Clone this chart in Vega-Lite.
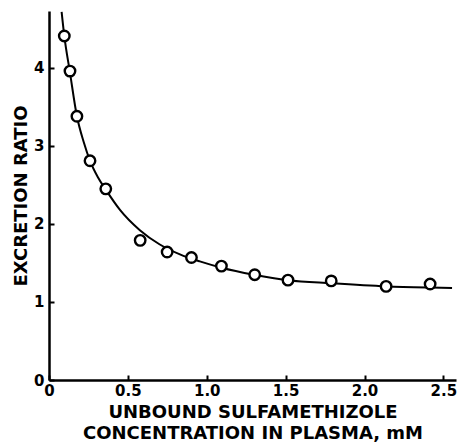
{
  "$schema": "https://vega.github.io/schema/vega-lite/v6.json",
  "width": 407,
  "height": 369,
  "autosize": {"type": "none"},
  "padding": {"left": 49, "top": 11, "right": 1, "bottom": 67},
  "background": "white",
  "config": {
    "view": {"stroke": null},
    "font": "DejaVu Sans"
  },
  "datasets": {
    "points": [
      {"x": 0.097, "y": 4.41},
      {"x": 0.133, "y": 3.96},
      {"x": 0.177, "y": 3.38},
      {"x": 0.26, "y": 2.81},
      {"x": 0.36, "y": 2.45},
      {"x": 0.578, "y": 1.79},
      {"x": 0.749, "y": 1.64},
      {"x": 0.903, "y": 1.57},
      {"x": 1.093, "y": 1.46},
      {"x": 1.304, "y": 1.35},
      {"x": 1.515, "y": 1.28},
      {"x": 1.789, "y": 1.27},
      {"x": 2.137, "y": 1.2},
      {"x": 2.416, "y": 1.23}
    ],
    "curve": [
      {"x": 0.08, "y": 4.72},
      {"x": 0.097, "y": 4.41},
      {"x": 0.133, "y": 3.94},
      {"x": 0.177, "y": 3.38},
      {"x": 0.22, "y": 3.05},
      {"x": 0.26, "y": 2.81},
      {"x": 0.31, "y": 2.6},
      {"x": 0.36, "y": 2.44},
      {"x": 0.45, "y": 2.18},
      {"x": 0.576, "y": 1.92},
      {"x": 0.7, "y": 1.74},
      {"x": 0.83, "y": 1.61},
      {"x": 0.956, "y": 1.52},
      {"x": 1.093, "y": 1.44},
      {"x": 1.3, "y": 1.35},
      {"x": 1.515, "y": 1.28},
      {"x": 1.79, "y": 1.24},
      {"x": 2.137, "y": 1.2},
      {"x": 2.416, "y": 1.185},
      {"x": 2.555, "y": 1.18}
    ]
  },
  "encoding": {
    "x": {
      "field": "x", "type": "quantitative",
      "scale": {"domain": [0, 2.58], "nice": false, "zero": false},
      "axis": {
        "values": [0, 0.5, 1, 1.5, 2, 2.5],
        "labelExpr": "datum.value == 0 ? '0' : format(datum.value, '.1f')",
        "title": ["UNBOUND SULFAMETHIZOLE", "CONCENTRATION IN PLASMA, mM"],
        "titleFontSize": 18, "titleFontWeight": "bold", "titleColor": "black",
        "titlePadding": 5, "titleLineHeight": 21,
        "labelFontSize": 15, "labelFontWeight": "bold", "labelColor": "black",
        "labelPadding": 8, "labelFlush": false,
        "domainColor": "black", "domainWidth": 2.5,
        "tickColor": "black", "tickWidth": 2, "tickSize": -5,
        "grid": false
      }
    },
    "y": {
      "field": "y", "type": "quantitative",
      "scale": {"domain": [0, 4.73], "nice": false},
      "axis": {
        "values": [0, 1, 2, 3, 4],
        "title": "EXCRETION RATIO",
        "titleFontSize": 18, "titleFontWeight": "bold", "titleColor": "black",
        "titlePadding": 3,
        "labelFontSize": 15, "labelFontWeight": "bold", "labelColor": "black",
        "labelPadding": 10, "labelFlush": false,
        "domainColor": "black", "domainWidth": 2.5,
        "tickColor": "black", "tickWidth": 2, "tickSize": -5,
        "grid": false
      }
    }
  },
  "layer": [
    {
      "data": {"name": "curve"},
      "mark": {"type": "line", "interpolate": "monotone", "color": "black", "strokeWidth": 2},
      "encoding": {}
    },
    {
      "data": {"name": "points"},
      "mark": {"type": "point", "shape": "circle", "filled": false, "fill": "white", "fillOpacity": 1, "stroke": "black", "strokeWidth": 2.4, "size": 110, "opacity": 1},
      "encoding": {}
    }
  ]
}
